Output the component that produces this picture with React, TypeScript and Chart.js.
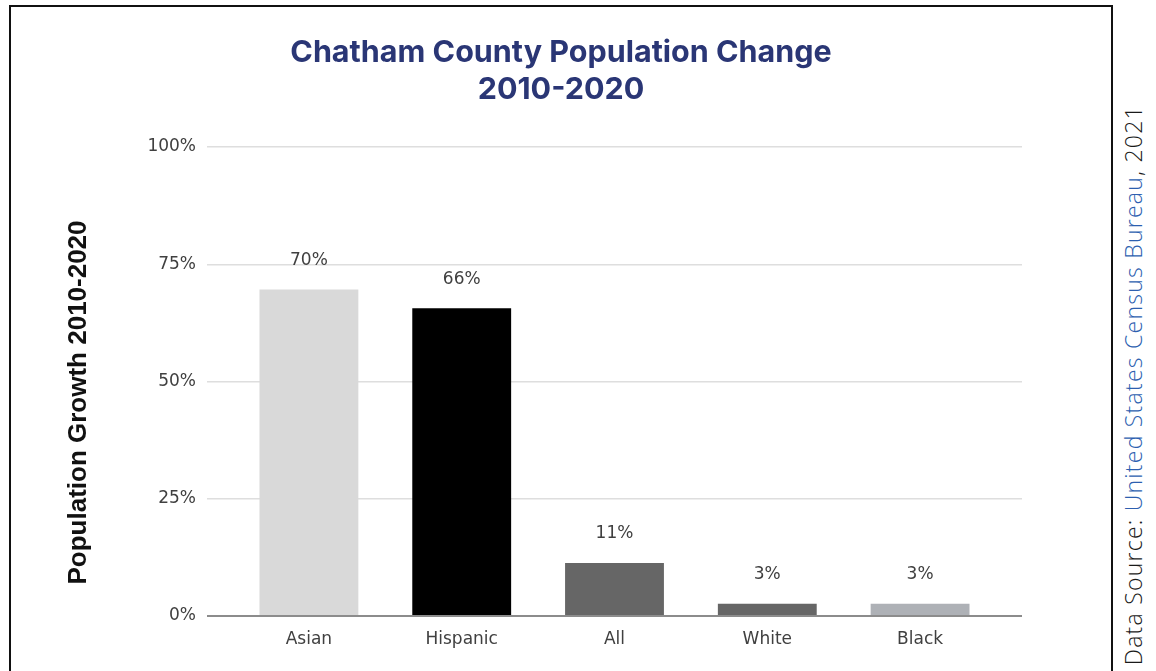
import React, { useEffect, useRef } from 'react';
import { Chart, registerables } from 'chart.js';

Chart.register(...registerables);

const categories = ['Asian', 'Hispanic', 'All', 'White', 'Black'];
const growthPercent = [69.6, 65.6, 11.3, 2.6, 2.6];
const barColors = ['#d9d9d9', '#000000', '#666666', '#666666', '#aeb1b6'];
const yTickValues = [0, 25, 50, 75, 100];
const titleLines = ['Chatham County Population Change', '2010-2020'];
const yAxisTitle = 'Population Growth 2010-2020';

const TICK_FONT = { family: '"DejaVu Sans", sans-serif', size: 17 };
const TICK_COLOR = '#404040';

const barValueLabels = {
  id: 'barValueLabels',
  afterDatasetsDraw(chart: any) {
    const ctx = chart.ctx;
    const meta = chart.getDatasetMeta(0);
    ctx.save();
    ctx.font = '17px "DejaVu Sans", sans-serif';
    ctx.fillStyle = TICK_COLOR;
    ctx.textAlign = 'center';
    ctx.textBaseline = 'middle';
    meta.data.forEach((bar: any, i: number) => {
      ctx.fillText(Math.round(growthPercent[i]) + '%', bar.x, bar.y - 29);
    });
    ctx.restore();
  },
};

const yTitlePlugin = {
  id: 'yTitlePlugin',
  afterDraw(chart: any) {
    const { ctx, chartArea } = chart;
    ctx.save();
    ctx.translate(chartArea.left - 128, (chartArea.top + chartArea.bottom) / 2 + 21);
    ctx.rotate(-Math.PI / 2);
    ctx.font = 'bold 26px "Liberation Sans", Arial, sans-serif';
    ctx.fillStyle = '#111111';
    ctx.textAlign = 'center';
    ctx.textBaseline = 'middle';
    ctx.fillText(yAxisTitle, 0, 0);
    ctx.restore();
  },
};

export default function App() {
  const canvasRef = useRef<HTMLCanvasElement | null>(null);

  useEffect(() => {
    if (!canvasRef.current) return;
    const chart = new Chart(canvasRef.current, {
      type: 'bar',
      data: {
        datasets: [
          {
            data: growthPercent.map((y, i) => ({ x: i, y })),
            backgroundColor: barColors,
            borderWidth: 0,
            categoryPercentage: 1,
            barPercentage: 0.647,
          },
        ],
      },
      options: {
        responsive: false,
        animation: false,
        layout: { padding: 0 },
        plugins: {
          legend: { display: false },
          tooltip: { enabled: false },
          title: {
            display: true,
            text: titleLines,
            color: '#2a3675',
            font: { family: 'Inter, "Open Sans", sans-serif', size: 30.5, weight: 'bold', lineHeight: 37 / 30.5 },
            padding: { top: 27, bottom: 39 },
          },
        },
        scales: {
          x: {
            type: 'linear',
            offset: false,
            min: -0.667,
            max: 4.667,
            afterBuildTicks: (s: any) => {
              s.ticks = categories.map((_, i) => ({ value: i }));
            },
            afterFit: (s: any) => {
              s.height = 55;
            },
            grid: { display: false, offset: false },
            border: { display: false },
            ticks: {
              autoSkip: false,
              maxRotation: 0,
              padding: 5,
              color: TICK_COLOR,
              font: TICK_FONT,
              callback: (v: any) => categories[v as number] ?? '',
            },
          },
          y: {
            min: 0,
            max: 100,
            afterBuildTicks: (s: any) => {
              s.ticks = yTickValues.map((v) => ({ value: v }));
            },
            afterFit: (s: any) => {
              s.width = 196;
            },
            border: { display: false },
            grid: {
              drawTicks: false,
              color: (c: any) => (c.tick && c.tick.value === 0 ? '#8c8c8c' : '#dedede'),
              lineWidth: (c: any) => (c.tick && c.tick.value === 0 ? 2 : 1.5),
            },
            ticks: {
              padding: 11,
              color: TICK_COLOR,
              font: TICK_FONT,
              callback: (v: any) => v + '%',
            },
          },
          rightSpace: {
            type: 'linear',
            position: 'right',
            display: true,
            afterFit: (s: any) => {
              s.width = 89;
            },
            grid: { display: false },
            border: { display: false },
            ticks: { display: false },
          },
        },
      } as any,
      plugins: [barValueLabels, yTitlePlugin],
    });
    return () => chart.destroy();
  }, []);

  return (
    <>
      <div
        style={{
          position: 'absolute',
          left: 9,
          top: 5,
          width: 1104,
          height: 666,
          border: '2px solid #111',
          borderBottom: 'none',
          boxSizing: 'border-box',
          background: '#fff',
          overflow: 'hidden',
        }}
      >
        <canvas ref={canvasRef} width={1100} height={664} style={{ display: 'block' }} />
      </div>
      <div
        style={{
          position: 'absolute',
          left: 1121,
          top: 105,
          writingMode: 'vertical-rl',
          transform: 'rotate(180deg)',
          fontFamily: '"Open Sans", sans-serif',
          fontWeight: 300,
          fontSize: 23,
          letterSpacing: '1.25px',
          lineHeight: '24px',
          whiteSpace: 'nowrap',
          color: '#1a1a1a',
        }}
      >
        Data Source: <span style={{ color: '#2d5fb0' }}>United States Census Bureau</span>, 2021
      </div>
    </>
  );
}
